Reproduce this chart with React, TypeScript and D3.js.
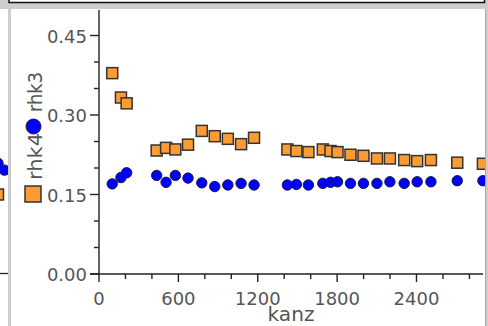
import { useEffect } from "react";
import * as d3 from "d3";

// kanz values (shared x for both series)
const kanz = [100, 166, 209, 436, 507, 577, 673, 777, 875, 974, 1074, 1172, 1424, 1492, 1583, 1692, 1750, 1803, 1901, 1999, 2101, 2199, 2307, 2405, 2509, 2708, 2902];
// rhk3 — blue circles
const rhk3 = [0.170, 0.182, 0.191, 0.186, 0.173, 0.186, 0.181, 0.172, 0.165, 0.168, 0.171, 0.168, 0.168, 0.169, 0.168, 0.171, 0.173, 0.174, 0.171, 0.171, 0.171, 0.174, 0.171, 0.174, 0.174, 0.176, 0.176];
// rhk4 — orange squares
const rhk4 = [0.379, 0.333, 0.322, 0.233, 0.238, 0.235, 0.244, 0.270, 0.260, 0.255, 0.245, 0.257, 0.235, 0.232, 0.230, 0.235, 0.232, 0.230, 0.225, 0.223, 0.218, 0.218, 0.215, 0.213, 0.215, 0.210, 0.208];

// the sliver of the neighbouring page at the far left
const prevKanz = [2880, 2930];
const prevRhk3 = [0.209, 0.196];
const prevRhk4 = [0.150, 0.150];

const yTicks = [0, 0.15, 0.3, 0.45];
const xTicks = [0, 600, 1200, 1800, 2400];

const W = 488;
const H = 326;
const BLUE = "#0000ff";
const ORANGE = "#ff9b33";
const FONT = "DejaVu Sans";

const x = d3.scaleLinear().domain([0, 2400]).range([99, 416.5]);
const y = d3.scaleLinear().domain([0, 0.45]).range([274, 35.5]);
const xPrev = d3.scaleLinear().domain([2880, 2930]).range([-2, 4.5]);

const yMinor = d3.range(0, 0.46, 0.05).filter((v) => !yTicks.some((t) => Math.abs(t - v) < 1e-6));
const xMinor = d3.range(0, 2900, 200).filter((v) => v % 600 !== 0);

export default function App() {
  useEffect(() => {
    document.body.style.margin = "0";
  }, []);

  const y0 = y(0);
  const x0 = x(0);

  return (
    <div style={{ position: "fixed", left: 0, top: 0 }}>
      <svg width={W} height={H} style={{ display: "block" }} fontFamily={FONT}>
        <defs>
          <clipPath id="mainClip"><rect x={11} y={9} width={474} height={H - 9} /></clipPath>
          <clipPath id="prevClip"><rect x={0} y={9} width={8} height={H - 9} /></clipPath>
        </defs>

        {/* window chrome */}
        <rect x={0} y={0} width={W} height={H} fill="#cdcdcd" />
        <rect x={11} y={9} width={474} height={H - 9} fill="#fff" />
        <rect x={0} y={9} width={8} height={H - 9} fill="#fff" />
        <line x1={485.5} x2={485.5} y1={9} y2={H} stroke="#a8a8a8" strokeWidth={1} />
        <rect x={9} y={-5} width={475.5} height={7.5} fill="#fff" stroke="#111" strokeWidth={1.5} />

        {/* neighbouring page sliver */}
        <g clipPath="url(#prevClip)">
          <line x1={0} x2={8} y1={y0 - 0.5} y2={y0 - 0.5} stroke="#222" strokeWidth={1.3} />
          {prevKanz.map((k, i) => (
            <circle key={`pc${i}`} cx={xPrev(k)} cy={y(prevRhk3[i])} r={5.2} fill={BLUE} stroke="#1a1a40" strokeWidth={1} />
          ))}
          <rect x={xPrev(prevKanz[0]) - 5.5} y={y(prevRhk4[0]) - 5.5} width={11} height={11} fill={ORANGE} stroke="#333" strokeWidth={1.5} />
        </g>

        <g clipPath="url(#mainClip)">
          {/* y axis */}
          <line x1={x0} x2={x0} y1={10} y2={y0} stroke="#222" strokeWidth={1.4} />
          {yTicks.map((t) => (
            <g key={`yt${t}`}>
              <line x1={x0 - 9} x2={x0} y1={y(t)} y2={y(t)} stroke="#222" strokeWidth={1.4} />
              <text x={87} y={y(t) + 7.3} textAnchor="end" fontSize={18} fill="#555">{t.toFixed(2)}</text>
            </g>
          ))}
          {yMinor.map((t) => (
            <line key={`ym${t}`} x1={x0 - 5} x2={x0} y1={y(t)} y2={y(t)} stroke="#222" strokeWidth={1.4} />
          ))}

          {/* x axis */}
          <line x1={x0 - 9} x2={483} y1={y0} y2={y0} stroke="#222" strokeWidth={1.4} />
          {xTicks.map((t) => (
            <g key={`xt${t}`}>
              <line x1={x(t)} x2={x(t)} y1={y0} y2={y0 + 8} stroke="#222" strokeWidth={1.4} />
              <text x={x(t)} y={y0 + 31} textAnchor="middle" fontSize={18} fill="#555">{t}</text>
            </g>
          ))}
          {xMinor.map((t) => (
            <line key={`xm${t}`} x1={x(t)} x2={x(t)} y1={y0} y2={y0 + 5} stroke="#222" strokeWidth={1.4} />
          ))}

          {/* axis titles */}
          <text x={291} y={321} textAnchor="middle" fontSize={20} fill="#555" textLength={47} lengthAdjust="spacingAndGlyphs">kanz</text>
          <g>
            <rect x={25} y={186} width={16} height={16} fill={ORANGE} stroke="#333" strokeWidth={1.5} />
            <text transform="translate(42,180) rotate(-90)" fontSize={20} fill="#555" textLength={47} lengthAdjust="spacingAndGlyphs">rhk4</text>
            <circle cx={33.5} cy={126.5} r={7.5} fill={BLUE} stroke="#1a1a40" strokeWidth={1} />
            <text transform="translate(42,112) rotate(-90)" fontSize={20} fill="#555" textLength={40} lengthAdjust="spacingAndGlyphs">rhk3</text>
          </g>

          {/* rhk3 points */}
          {kanz.map((k, i) => (
            <circle key={`c${i}`} cx={x(k)} cy={y(rhk3[i])} r={5.2} fill={BLUE} stroke="#1a1a40" strokeWidth={1} />
          ))}
          {/* rhk4 points */}
          {kanz.map((k, i) => (
            <rect key={`s${i}`} x={x(k) - 5.5} y={y(rhk4[i]) - 5.5} width={11} height={11} fill={ORANGE} stroke="#333" strokeWidth={1.5} />
          ))}
        </g>
      </svg>
    </div>
  );
}
